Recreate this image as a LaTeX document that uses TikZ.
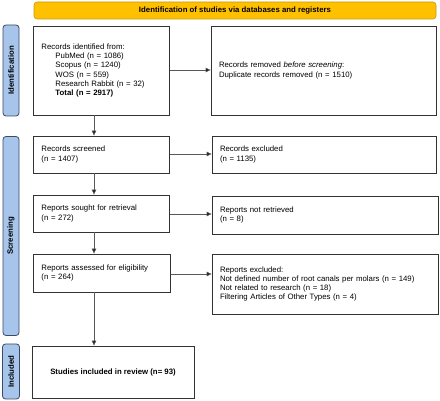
\documentclass[tikz,border=0pt]{standalone}
\usepackage{fontspec}
\setmainfont{Liberation Sans}
\usetikzlibrary{arrows.meta}

\definecolor{bannerfill}{HTML}{FFC000}
\definecolor{bannerline}{HTML}{C99A10}
\definecolor{phasefill}{HTML}{A7C5EA}
\definecolor{phaseline}{HTML}{3B4A66}

\tikzset{
  box/.style={draw=black!80, line width=0.8pt, inner xsep=8pt, inner ysep=2pt,
    align=left, font=\fontsize{7.8}{9.2}\selectfont},
  phase/.style={draw=phaseline, fill=phasefill, line width=0.8pt, rounded corners=3pt,
    rotate=90, font=\fontsize{7.8}{9.2}\selectfont\bfseries, inner sep=0pt},
  banner/.style={draw=bannerline, fill=bannerfill, line width=0.6pt, rounded corners=3pt,
    font=\fontsize{7.8}{9.2}\selectfont\bfseries, inner sep=0pt},
  flow/.style={draw=black!65, line width=0.8pt, -{Triangle[length=5pt,width=4.5pt,fill=black]}}
}

\begin{document}
\begin{tikzpicture}[x=1pt,y=-1pt]
                \useasboundingbox (0,0) rectangle (440,401);

                \node[banner, minimum width=402pt, minimum height=17pt] (head) at (235,10.5) {Identification of studies via databases and registers};

                \node[phase, minimum width=91pt, minimum height=16pt] (ident) at (11,70.5) {Identification};
                \node[phase, minimum width=199pt, minimum height=16pt] (screen) at (11,236) {Screening};
                \node[phase, minimum width=55pt, minimum height=17pt] (incl) at (11,371.5) {Included};

                \node[box, text width=120pt, minimum height=89pt] (found) at (101.5,70.5) {Records identified from:\\
                  \hspace*{14pt}PubMed (n = 1086)\\
                  \hspace*{14pt}Scopus (n = 1240)\\
                  \hspace*{14pt}WOS (n = 559)\\
                  \hspace*{14pt}Research Rabbit (n = 32)\\
                  \hspace*{14pt}\textbf{Total (n = 2917)}};
                \node[box, text width=209pt, minimum height=89pt] (dupes) at (323.5,70.5) {Records removed \textit{before screening}:\\Duplicate records removed (n = 1510)};

                \node[box, text width=120pt, minimum height=37pt] (screened) at (101.5,154.5) {Records screened\\(n = 1407)};
                \node[box, text width=208pt, minimum height=37pt] (excluded) at (324,154.5) {Records excluded\\(n = 1135)};

                \node[box, text width=120pt, minimum height=37pt] (sought) at (101.5,213.5) {Reports sought for retrieval\\(n = 272)};
                \node[box, text width=210pt, minimum height=38pt] (notret) at (325,215) {Reports not retrieved\\(n = 8)};

                \node[box, text width=121pt, minimum height=38pt] (assessed) at (102,273) {Reports assessed for eligibility\\(n = 264)};
                \node[box, text width=210pt, minimum height=60pt] (repexcl) at (325,284) {Reports excluded:\\Not defined number of root canals per molars (n = 149)\\Not related to research (n = 18)\\Filtering Articles of Other Types (n = 4)};

                \node[box, align=center, minimum width=162pt, minimum height=52pt, font=\fontsize{7.8}{9.2}\selectfont\bfseries] (included) at (113,372) {Studies included in review (n= 93)};

                \coordinate (col) at (94,0);

                \draw[flow] (found.east |- 0,70) -- (dupes.west |- 0,70);
                \draw[flow] (screened.east |- 0,154) -- (excluded.west |- 0,154);
                \draw[flow] (sought.east |- 0,214) -- (notret.west |- 0,214);
                \draw[flow] (assessed.east |- 0,274) -- (repexcl.west |- 0,274);

                \draw[flow] (found.south -| col) -- (screened.north -| col);
                \draw[flow] (screened.south -| col) -- (sought.north -| col);
                \draw[flow] (sought.south -| col) -- (assessed.north -| col);
                \draw[flow] (assessed.south -| col) -- (included.north -| col);

            \end{tikzpicture}
\end{document}
